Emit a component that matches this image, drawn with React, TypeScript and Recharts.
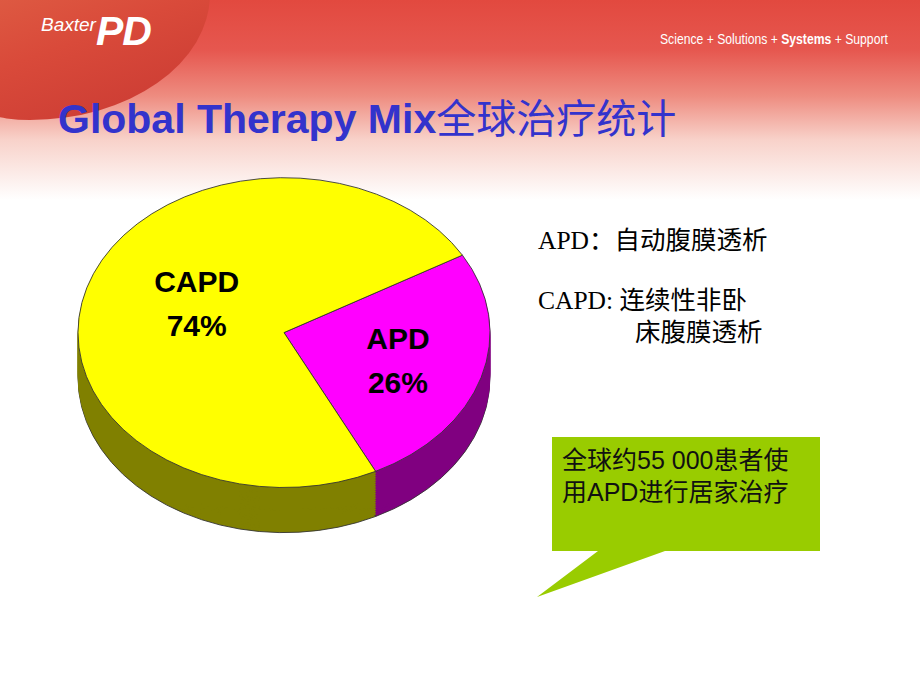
import React from "react";
import { PieChart, Pie, Cell } from "recharts";

const therapies = ["APD", "CAPD"];
const shares = [26, 74];
const topColors = ["#ff00ff", "#ffff00"];
const sideColors = ["#800080", "#808000"];
const labelRadius = [0.571, 0.479];
const labelTurn = [2.4, -11];

const data = therapies.map((name, i) => ({ name, value: shares[i] }));

// pie is drawn as a circle and squashed into an ellipse
const TILT = 0.752;
const R = 206;
const DEPTH = 60;
const layers: number[] = [];
for (let d = DEPTH; d > 0; d -= 3) layers.push(d);

const RADIAN = Math.PI / 180;
const CJK = "'Noto Sans CJK SC', sans-serif";

const renderLabel = (props: any) => {
  const { cx, cy, midAngle, outerRadius, name, percent, index } = props;
  const r = outerRadius * labelRadius[index];
  const a = (midAngle + labelTurn[index]) * RADIAN;
  const x = cx + r * Math.cos(-a);
  const y = cy + r * Math.sin(-a);
  const k = 1 / TILT;
  return (
    <text
      x={x}
      y={y}
      textAnchor="middle"
      fontFamily="'Liberation Sans', Arial, sans-serif"
      fontWeight="bold"
      fontSize={30}
      fill="#000"
      transform={`translate(0 ${y}) scale(1 ${k}) translate(0 ${-y})`}
    >
      <tspan x={x} dy={-6}>{name}</tspan>
      <tspan x={x} dy={44}>{`${Math.round(percent * 100)}%`}</tspan>
    </text>
  );
};

const line = (left: number, top: number, extra: React.CSSProperties = {}) => ({
  position: "absolute" as const,
  left,
  top,
  height: 32,
  lineHeight: "32px",
  whiteSpace: "nowrap" as const,
  ...extra,
});

export default function App() {
  const cyc = 300;
  const serif = "'Liberation Serif', 'Times New Roman', serif";
  return (
    <div
      style={{
        position: "relative",
        width: 920,
        height: 690,
        overflow: "hidden",
        background: "#fff",
        fontFamily: "'Liberation Sans', Arial, sans-serif",
      }}
    >
      <style>{`body{margin:0}`}</style>
      {/* header banner */}
      <div
        style={{
          position: "absolute",
          left: 0,
          top: 0,
          width: 920,
          height: 200,
          background:
            "linear-gradient(to bottom, #e2493f 0%, #e6574f 25%, #ee8c80 48%, #f8d2ca 70%, #ffffff 100%)",
        }}
      />
      <div
        style={{
          position: "absolute",
          left: -90,
          top: -90,
          width: 300,
          height: 210,
          borderRadius: "0 0 60% 40%",
          background: "linear-gradient(160deg, #e6734f 0%, #d94a3a 60%, #c83832 100%)",
        }}
      />
      <div style={{ position: "absolute", left: 41, top: 8, color: "#fff", whiteSpace: "nowrap" }}>
        <span style={{ fontStyle: "italic", fontSize: 19, verticalAlign: "top", position: "relative", top: 6 }}>
          Baxter
        </span>
        <span style={{ fontStyle: "italic", fontWeight: "bold", fontSize: 41, letterSpacing: -1 }}>PD</span>
      </div>
      <div
        style={{
          position: "absolute",
          left: 660,
          top: 31,
          color: "#fff",
          fontSize: 14,
          whiteSpace: "nowrap",
          transform: "scaleX(0.87)",
          transformOrigin: "left top",
        }}
      >
        Science + Solutions + <b>Systems</b> + Support
      </div>
      <div
        style={{
          position: "absolute",
          left: 58,
          top: 87,
          color: "#3333cc",
          fontSize: 41,
          fontWeight: "bold",
          whiteSpace: "nowrap",
        }}
      >
        Global Therapy Mix
        <span style={{ fontWeight: "normal", fontFamily: CJK, fontSize: 40 }}>全球治疗统计</span>
      </div>

      {/* pie */}
      <div
        style={{
          position: "absolute",
          left: 0,
          top: 333 - TILT * cyc,
          transform: `scaleY(${TILT})`,
          transformOrigin: "left top",
        }}
      >
        <PieChart width={600} height={600} margin={{ top: 0, right: 0, bottom: 0, left: 0 }}>
          {layers.map((d, li) => (
            <Pie
              key={`side-${d}`}
              data={data}
              dataKey="value"
              nameKey="name"
              cx={284}
              cy={cyc + d}
              outerRadius={R}
              startAngle={30}
              endAngle={-330}
              isAnimationActive={false}
              label={false}
              labelLine={false}
            >
              {data.map((e, i) => (
                <Cell
                  key={e.name}
                  fill={sideColors[i]}
                  stroke={li === 0 ? "#333" : sideColors[i]}
                  strokeWidth={1}
                />
              ))}
            </Pie>
          ))}
          <Pie
            data={data}
            dataKey="value"
            nameKey="name"
            cx={284}
            cy={cyc}
            outerRadius={R}
            startAngle={30}
            endAngle={-330}
            isAnimationActive={false}
            label={renderLabel}
            labelLine={false}
          >
            {data.map((e, i) => (
              <Cell key={e.name} fill={topColors[i]} stroke="#333" strokeWidth={1} />
            ))}
          </Pie>
        </PieChart>
      </div>

      {/* definitions */}
      <div style={{ fontSize: 25.5, color: "#000", fontFamily: serif }}>
        <div style={line(538, 222)}>
          APD<span style={{ fontFamily: CJK }}>：自动腹膜透析</span>
        </div>
        <div style={line(538, 282)}>
          CAPD: <span style={{ fontFamily: CJK }}>连续性非卧</span>
        </div>
        <div style={line(635, 314, { fontFamily: CJK })}>床腹膜透析</div>
      </div>

      {/* callout */}
      <svg style={{ position: "absolute", left: 0, top: 0 }} width={920} height={690}>
        <path d="M552 437 H820 V551 H665 L537 597 L598 551 H552 Z" fill="#99cc00" />
      </svg>
      <div style={{ fontSize: 25, color: "#111" }}>
        <div style={line(562, 442)}>
          <span style={{ fontFamily: CJK }}>全球约</span>55 000
          <span style={{ fontFamily: CJK }}>患者使</span>
        </div>
        <div style={line(562, 474)}>
          <span style={{ fontFamily: CJK }}>用</span>APD
          <span style={{ fontFamily: CJK }}>进行居家治疗</span>
        </div>
      </div>
    </div>
  );
}
